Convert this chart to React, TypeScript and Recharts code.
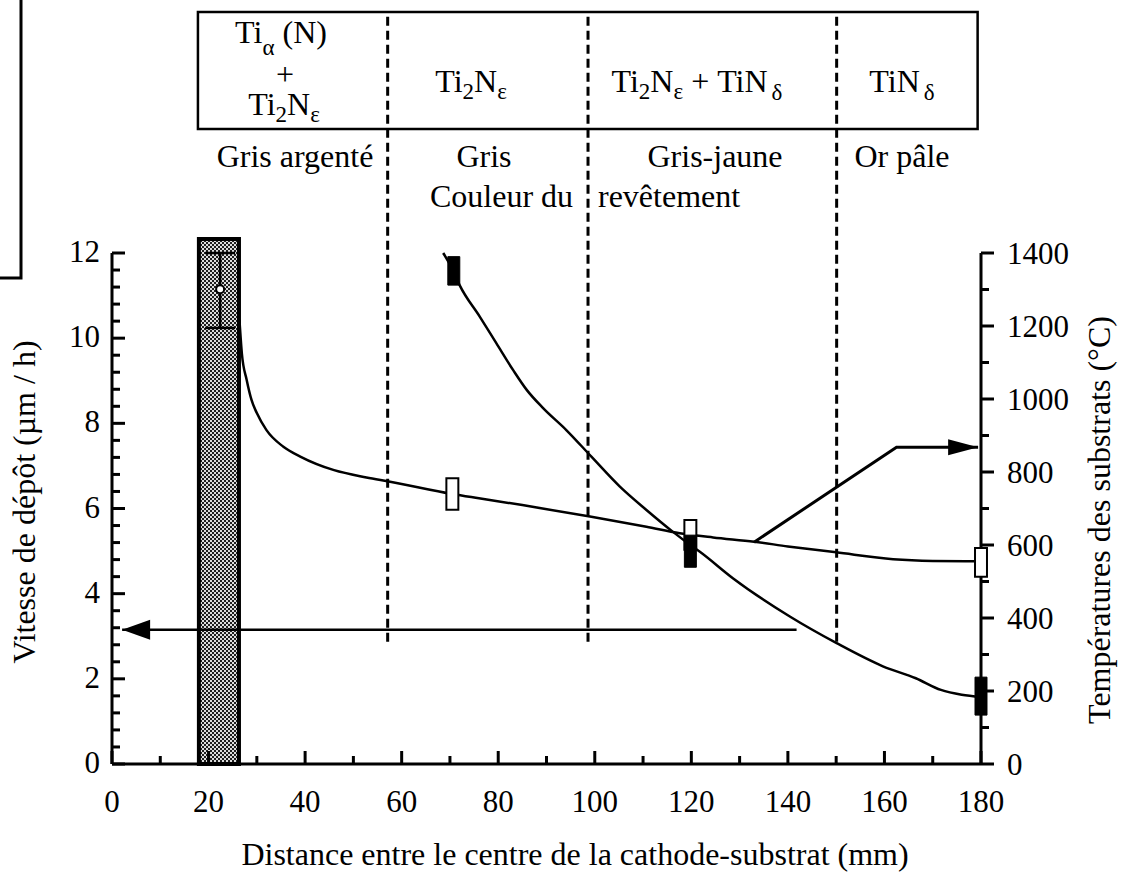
import React from "react";
import {
  ComposedChart,
  Line,
  Scatter,
  ErrorBar,
  XAxis,
  YAxis,
  ReferenceArea,
  ReferenceLine,
} from "recharts";

// deposition rate (µm/h) vs cathode-substrate distance (mm)
const rateX = [26.4, 26.9, 27.9, 28.9, 30, 32, 35.5, 39, 46, 52.7, 57.6, 70.5, 76, 85, 99, 110.7, 117.6, 124.5, 133, 140, 150, 161.8, 170, 180];
const rateY = [10.43, 9.64, 9.02, 8.55, 8.24, 7.84, 7.45, 7.22, 6.9, 6.73, 6.63, 6.34, 6.24, 6.08, 5.81, 5.57, 5.42, 5.32, 5.22, 5.11, 4.97, 4.81, 4.77, 4.76];

// substrate temperature (°C) vs distance (mm)
const tempX = [68.6, 70.5, 72, 76.2, 79.6, 83.1, 85.9, 89.3, 94.1, 99.3, 105.2, 110.7, 116.2, 120, 121.7, 128.6, 140.4, 150.1, 159.8, 166.5, 171.7, 176, 180];
const tempY = [1400, 1356, 1312, 1225, 1153, 1079, 1025, 975, 915, 842, 760, 696, 636, 598, 582, 509, 404, 331, 267, 235, 203, 190, 184];

// measured ranges (open boxes = rate, filled boxes = temperature)
const rateBoxX = [70.5, 119.8, 180];
const rateBoxLo = [5.97, 5.03, 4.4];
const rateBoxHi = [6.71, 5.73, 5.07];
const tempBoxX = [70.8, 119.8, 180];
const tempBoxLo = [1312, 539, 134];
const tempBoxHi = [1390, 627, 238];

// cathode zone and the point measured on it
const cathodeX = [18, 26.3];
const cathodeTop = 12.33;
const peakX = 22.4;
const peakY = 11.15;
const peakErr = [0.91, 0.85];

// phase boundaries (mm) and header table limits
const phaseBounds = [57.1, 98.6, 150.1];
const tableX = [17.8, 179.3];

// arrows pointing at the axes
const arrowLeftX = [2.1, 141.8];
const arrowLeftY = [3.15, 3.15];
const arrowRightX = [133, 162.5, 179.4];
const arrowRightY = [5.21, 7.44, 7.44];

const xTicks = [0, 10, 20, 30, 40, 50, 60, 70, 80, 90, 100, 110, 120, 130, 140, 150, 160, 170, 180];
const xLabels = [0, 20, 40, 60, 80, 100, 120, 140, 160, 180];
const leftTicks = [0, 0.4, 0.8, 1.2, 1.6, 2, 2.4, 2.8, 3.2, 3.6, 4, 4.4, 4.8, 5.2, 5.6, 6, 6.4, 6.8, 7.2, 7.6, 8, 8.4, 8.8, 9.2, 9.6, 10, 10.4, 10.8, 11.2, 11.6, 12];
const leftLabels = [0, 2, 4, 6, 8, 10, 12];
const rightTicks = [0, 100, 200, 300, 400, 500, 600, 700, 800, 900, 1000, 1100, 1200, 1300, 1400];
const rightLabels = [0, 200, 400, 600, 800, 1000, 1200, 1400];

const FONT = '"Liberation Serif", "Times New Roman", serif';
const TICK_FONT = 31;
const TITLE_FONT = 32;
const HEAD_FONT = 32;
const SUB_FONT = 23;

const isLabel = (list: number[], v: number) => list.some((l) => Math.abs(l - v) < 1e-6);

const renderXTick = (p: any) => {
  const v = p.payload.value;
  const major = isLabel(xLabels, v);
  return (
    <g>
      <line x1={p.x} y1={p.y} x2={p.x} y2={p.y - (major ? 13 : 8)} stroke="#000" strokeWidth={3} />
      {major && (
        <text x={p.x} y={p.y + 48} textAnchor="middle" fontSize={TICK_FONT} fontFamily={FONT} fill="#000">
          {v}
        </text>
      )}
    </g>
  );
};

const renderLeftTick = (p: any) => {
  const v = p.payload.value;
  const major = isLabel(leftLabels, v);
  return (
    <g>
      <line x1={p.x} y1={p.y} x2={p.x + (major ? 13 : 8)} y2={p.y} stroke="#000" strokeWidth={3} />
      {major && (
        <text x={p.x - 12} y={p.y + 9} textAnchor="end" fontSize={TICK_FONT} fontFamily={FONT} fill="#000">
          {v}
        </text>
      )}
    </g>
  );
};

const renderRightTick = (p: any) => {
  const v = p.payload.value;
  const major = isLabel(rightLabels, v);
  return (
    <g>
      <line x1={p.x} y1={p.y} x2={p.x + (major ? 13 : 8)} y2={p.y} stroke="#000" strokeWidth={3} />
      {major && (
        <text x={p.x + 26} y={p.y + 11} textAnchor="start" fontSize={TICK_FONT} fontFamily={FONT} fill="#000">
          {v}
        </text>
      )}
    </g>
  );
};

// arrow heads drawn as the dot of the arrow series
const leftHead = (p: any) => {
  if (p.index !== 0) return <g key={p.index} />;
  return <path key={p.index} d={`M${p.cx},${p.cy} L${p.cx + 28},${p.cy - 10} L${p.cx + 28},${p.cy + 10} Z`} fill="#000" />;
};
const rightHead = (p: any) => {
  if (p.index !== arrowRightX.length - 1) return <g key={p.index} />;
  return <path key={p.index} d={`M${p.cx},${p.cy} L${p.cx - 30},${p.cy - 8} L${p.cx - 30},${p.cy + 8} Z`} fill="#000" />;
};

const Txt = ({ x, y, children, anchor = "middle", size = HEAD_FONT }: any) => (
  <text x={x} y={y} textAnchor={anchor} fontSize={size} fontFamily={FONT} fill="#000">
    {children}
  </text>
);

export default function App() {
  const rate = rateX.map((x, i) => ({ x, y: rateY[i] }));
  const temp = tempX.map((x, i) => ({ x, y: tempY[i] }));
  const arrowLeft = arrowLeftX.map((x, i) => ({ x, y: arrowLeftY[i] }));
  const arrowRight = arrowRightX.map((x, i) => ({ x, y: arrowRightY[i] }));
  const peak = [{ x: peakX, y: peakY, err: peakErr }];
  const half = 1.24;

  return (
    <div style={{ position: "absolute", left: 0, top: 0, width: 1124, height: 872, background: "#fff" }}>
      <svg width={0} height={0} style={{ position: "absolute" }}>
        <defs>
          <pattern id="cathodeFill" width="4" height="4" patternUnits="userSpaceOnUse">
            <rect width="4" height="4" fill="#dcdcdc" />
            <rect width="2" height="2" fill="#1e1e1e" />
            <rect x="2" y="2" width="2" height="2" fill="#1e1e1e" />
          </pattern>
        </defs>
      </svg>
      <ComposedChart width={1124} height={872} margin={{ top: 253, right: 83, bottom: 48, left: 32 }}>
        <XAxis
          type="number"
          dataKey="x"
          domain={[0, 180]}
          ticks={xTicks}
          interval={0}
          tick={renderXTick}
          tickLine={false}
          tickSize={0}
          tickMargin={0}
          height={60}
          axisLine={{ stroke: "#000", strokeWidth: 3 }}
        />
        <YAxis
          yAxisId="left"
          type="number"
          domain={[0, 12]}
          ticks={leftTicks}
          interval={0}
          tick={renderLeftTick}
          tickLine={false}
          tickSize={0}
          tickMargin={0}
          width={80}
          axisLine={{ stroke: "#000", strokeWidth: 3 }}
        />
        <YAxis
          yAxisId="right"
          orientation="right"
          type="number"
          domain={[0, 1400]}
          ticks={rightTicks}
          interval={0}
          tick={renderRightTick}
          tickLine={false}
          tickSize={0}
          tickMargin={0}
          width={60}
          axisLine={{ stroke: "#000", strokeWidth: 3 }}
        />

        {/* header table */}
        <ReferenceArea
          yAxisId="left"
          x1={tableX[0]}
          x2={tableX[1]}
          y1={14.91}
          y2={17.66}
          ifOverflow="visible"
          fill="none"
          stroke="#000"
          strokeWidth={2.5}
          zIndex={50}
        />
        {phaseBounds.map((b) => (
          <ReferenceLine
            key={b}
            yAxisId="left"
            segment={[
              { x: b, y: 2.87 },
              { x: b, y: 17.66 },
            ]}
            ifOverflow="visible"
            stroke="#000"
            strokeWidth={3}
            strokeDasharray="9 5"
            zIndex={50}
          />
        ))}

        {/* cathode zone */}
        <ReferenceArea
          yAxisId="left"
          x1={cathodeX[0]}
          x2={cathodeX[1]}
          y1={0}
          y2={cathodeTop}
          ifOverflow="visible"
          fill="url(#cathodeFill)"
          fillOpacity={1}
          stroke="#000"
          strokeWidth={4}
          zIndex={60}
        />

        <Line data={rate} dataKey="y" yAxisId="left" type="monotone" stroke="#000" strokeWidth={2.5} dot={false} activeDot={false} isAnimationActive={false} />
        <Line data={temp} dataKey="y" yAxisId="right" type="monotone" stroke="#000" strokeWidth={2.5} dot={false} activeDot={false} isAnimationActive={false} />
        <Line data={arrowLeft} dataKey="y" yAxisId="left" type="linear" stroke="#000" strokeWidth={2.5} dot={leftHead} activeDot={false} isAnimationActive={false} />
        <Line data={arrowRight} dataKey="y" yAxisId="left" type="linear" stroke="#000" strokeWidth={3} dot={rightHead} activeDot={false} isAnimationActive={false} />

        <Scatter
          data={peak}
          dataKey="y"
          yAxisId="left"
          isAnimationActive={false}
          shape={(p: any) => <circle cx={p.cx} cy={p.cy} r={4} fill="#fff" stroke="#000" strokeWidth={2} />}
        >
          <ErrorBar dataKey="err" direction="y" width={15} stroke="#000" strokeWidth={2.5} isAnimationActive={false} />
        </Scatter>

        {rateBoxX.map((x, i) => (
          <ReferenceArea
            key={`r${i}`}
            yAxisId="left"
            x1={x - half}
            x2={x + half}
            y1={rateBoxLo[i]}
            y2={rateBoxHi[i]}
            ifOverflow="visible"
            fill="#fff"
            fillOpacity={1}
            stroke="#000"
            strokeWidth={2}
            zIndex={700}
          />
        ))}
        {tempBoxX.map((x, i) => (
          <ReferenceArea
            key={`t${i}`}
            yAxisId="right"
            x1={x - half}
            x2={x + half}
            y1={tempBoxLo[i]}
            y2={tempBoxHi[i]}
            ifOverflow="visible"
            fill="#000"
            fillOpacity={1}
            stroke="#000"
            strokeWidth={1}
            zIndex={710}
          />
        ))}
      </ComposedChart>

      <svg width={1124} height={872} style={{ position: "absolute", left: 0, top: 0, pointerEvents: "none" }}>
        {/* fragment of the neighbouring figure */}
        <path d="M21,0 L21,278 L0,278" fill="none" stroke="#000" strokeWidth={3} />

        {/* phases */}
        <Txt x={281} y={43}>
          Ti<tspan dy={12} fontSize={SUB_FONT}>α</tspan>
          <tspan dy={-12}> (N)</tspan>
        </Txt>
        <Txt x={285} y={85}>+</Txt>
        <Txt x={284} y={115}>
          Ti<tspan dy={7} fontSize={SUB_FONT}>2</tspan>
          <tspan dy={-7}>N</tspan>
          <tspan dy={7} fontSize={SUB_FONT}>ε</tspan>
        </Txt>
        <Txt x={471} y={92}>
          Ti<tspan dy={7} fontSize={SUB_FONT}>2</tspan>
          <tspan dy={-7}>N</tspan>
          <tspan dy={7} fontSize={SUB_FONT}>ε</tspan>
        </Txt>
        <Txt x={697} y={92}>
          Ti<tspan dy={7} fontSize={SUB_FONT}>2</tspan>
          <tspan dy={-7}>N</tspan>
          <tspan dy={7} fontSize={SUB_FONT}>ε</tspan>
          <tspan dy={-7}> + TiN</tspan>
          <tspan dy={8} dx={4} fontSize={SUB_FONT}>δ</tspan>
        </Txt>
        <Txt x={902} y={92}>
          TiN<tspan dy={8} dx={4} fontSize={SUB_FONT}>δ</tspan>
        </Txt>

        {/* coating colours */}
        <Txt x={295} y={167}>Gris argenté</Txt>
        <Txt x={484} y={167}>Gris</Txt>
        <Txt x={715} y={167}>Gris-jaune</Txt>
        <Txt x={902} y={167}>Or pâle</Txt>
        <Txt x={430} y={207} anchor="start">Couleur du</Txt>
        <Txt x={598} y={207} anchor="start">revêtement</Txt>

        {/* axis titles */}
        <Txt x={575} y={865} size={TITLE_FONT}>Distance entre le centre de la cathode-substrat (mm)</Txt>
        <text x={0} y={0} transform="translate(35,502) rotate(-90)" textAnchor="middle" fontSize={TITLE_FONT} fontFamily={FONT} fill="#000">
          Vitesse de dépôt (µm / h)
        </text>
        <text x={0} y={0} transform="translate(1110,520) rotate(-90)" textAnchor="middle" fontSize={TITLE_FONT} fontFamily={FONT} fill="#000">
          Températures des substrats (°C)
        </text>
      </svg>
    </div>
  );
}
